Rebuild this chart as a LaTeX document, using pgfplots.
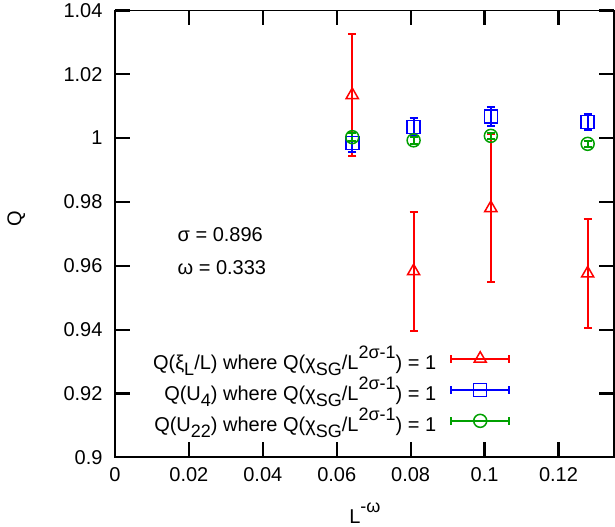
\documentclass[border=0pt]{standalone}
\usepackage{fontspec}
\setmainfont{Liberation Sans}
\usepackage{pgfplots}
\pgfplotsset{compat=1.18}
\definecolor{gpred}{RGB}{255,0,0}
\definecolor{gpblue}{RGB}{0,0,255}
\definecolor{gpgreen}{RGB}{0,160,0}
\newcommand{\fs}{\fontsize{20}{24}\selectfont}
\newcommand{\sbs}[1]{\raisebox{-0.27em}{\fontsize{18}{20}\selectfont #1}}
\newcommand{\sps}[1]{\raisebox{0.55em}{\fontsize{18}{20}\selectfont #1}}
\begin{document}
\begin{tikzpicture}
\begin{axis}[
  scale only axis, width=499pt, height=447pt,
  xmin=0, xmax=0.135, ymin=0.9, ymax=1.04,
  xtick={0,0.02,0.04,0.06,0.08,0.1,0.12},
  ytick={0.9,0.92,0.94,0.96,0.98,1,1.02,1.04},
  scaled ticks=false,
  /pgf/number format/assume math mode=true,
  /pgf/number format/fixed,
  tick label style={font=\fs},
  xticklabel style={yshift=-7pt},
  yticklabel style={xshift=-9pt},
  label style={font=\fs},
  xtick pos=both, ytick pos=both,
  tick align=inside, major tick length=15pt,
  axis line style={line width=1.8pt},
  every tick/.append style={draw=black, line width=2.2pt},
  xlabel={L\sps{-ω}},
  ylabel={Q},
  xlabel style={at={(axis description cs:0.501,-0.125)}, anchor=center},
  ylabel style={at={(axis description cs:-0.198,0.535)}, anchor=center},
  legend plot pos=right,
  legend cell align=right,
  legend style={draw=none, fill=none, font=\fs, inner sep=0pt,
    at={(axis cs:0.1070,0.9355)}, anchor=north east, row sep=2pt, column sep=12pt},
]
\pgfplotsinvokeforeach{0.02,0.04,0.06,0.08,0.1,0.12}{
  \draw[black, line width=2.2pt] (axis cs:#1,0.9) -- ++(0pt,15pt);
  \draw[black, line width=2.2pt] (axis cs:#1,1.04) -- ++(0pt,-15pt);
}
\pgfplotsinvokeforeach{0.92,0.94,0.96,0.98,1,1.02}{
  \draw[black, line width=2.2pt] (axis cs:0,#1) -- ++(15pt,0pt);
  \draw[black, line width=2.2pt] (axis cs:0.135,#1) -- ++(-15pt,0pt);
}
\addplot[only marks, gpred, mark=triangle, mark size=7pt, mark options={line width=1.5pt},
  error bars/.cd, y dir=both, y explicit,
  error bar style={line width=2pt, gpred},
  error mark options={rotate=90, mark size=4pt, line width=2pt, gpred},
  /pgfplots/legend image code/.code={
  \draw[gpred,line width=2pt] (0pt,0pt) -- (58pt,0pt);
  \draw[gpred,line width=2pt] (0pt,-4pt) -- (0pt,4pt);
  \draw[gpred,line width=2pt] (58pt,-4pt) -- (58pt,4pt);
  \draw[gpred,line width=1.5pt,mark=triangle,mark size=7pt] plot coordinates {(29pt,0pt)};
  }]
  coordinates {
  (0.0642,1.0135) +- (0,0.0190)
  (0.0808,0.9583) +- (0,0.0187)
  (0.1017,0.9781) +- (0,0.0232)
  (0.1279,0.9576) +- (0,0.0170)
  };
\addlegendentry{Q(ξ\sbs{L}/L) where Q(χ\sbs{SG}/L\sps{2σ-1}) = 1}
\addplot[only marks, gpblue, mark=square, mark size=6.5pt, mark options={line width=1.5pt},
  error bars/.cd, y dir=both, y explicit,
  error bar style={line width=2pt, gpblue},
  error mark options={rotate=90, mark size=4pt, line width=2pt, gpblue},
  /pgfplots/legend image code/.code={
  \draw[gpblue,line width=2pt] (0pt,0pt) -- (58pt,0pt);
  \draw[gpblue,line width=2pt] (0pt,-4pt) -- (0pt,4pt);
  \draw[gpblue,line width=2pt] (58pt,-4pt) -- (58pt,4pt);
  \draw[gpblue,line width=1.5pt,mark=square,mark size=6.5pt] plot coordinates {(29pt,0pt)};
  }]
  coordinates {
  (0.0642,0.9985) +- (0,0.0030)
  (0.0808,1.0035) +- (0,0.0027)
  (0.1017,1.0067) +- (0,0.0030)
  (0.1279,1.0051) +- (0,0.0025)
  };
\addlegendentry{Q(U\sbs{4}) where Q(χ\sbs{SG}/L\sps{2σ-1}) = 1}
\addplot[only marks, gpgreen, mark=o, mark size=6.5pt, mark options={line width=1.5pt},
  error bars/.cd, y dir=both, y explicit,
  error bar style={line width=2pt, gpgreen},
  error mark options={rotate=90, mark size=4pt, line width=2pt, gpgreen},
  /pgfplots/legend image code/.code={
  \draw[gpgreen,line width=2pt] (0pt,0pt) -- (58pt,0pt);
  \draw[gpgreen,line width=2pt] (0pt,-4pt) -- (0pt,4pt);
  \draw[gpgreen,line width=2pt] (58pt,-4pt) -- (58pt,4pt);
  \draw[gpgreen,line width=1.5pt,mark=o,mark size=6.5pt] plot coordinates {(29pt,0pt)};
  }]
  coordinates {
  (0.0642,1.0003) +- (0,0.0012)
  (0.0808,0.9993) +- (0,0.0010)
  (0.1017,1.0007) +- (0,0.0010)
  (0.1279,0.9982) +- (0,0.0010)
  };
\addlegendentry{Q(U\sbs{22}) where Q(χ\sbs{SG}/L\sps{2σ-1}) = 1}
\node[anchor=west, font=\fs] at (axis cs:0.0160,0.9697) {σ = 0.896};
\node[anchor=west, font=\fs] at (axis cs:0.0160,0.9594) {ω = 0.333};
\coordinate (bbll) at (rel axis cs:-0.2305,-0.1544);
\coordinate (bbur) at (rel axis cs:1.002,1.0157);
\end{axis}
\path (bbll) (bbur);
\end{tikzpicture}
\end{document}
